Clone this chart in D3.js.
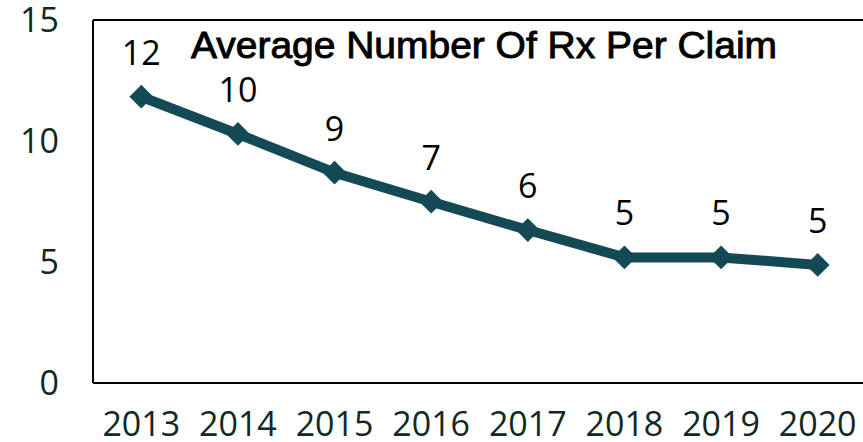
<!DOCTYPE html>
<html>
<head>
<meta charset="utf-8">
<script src="https://cdn.jsdelivr.net/npm/d3@7"></script>
<style>
  body { margin: 0; background: #fff; }
  svg { display: block; }
</style>
</head>
<body>
<svg></svg>
<script>
const years = ['2013', '2014', '2015', '2016', '2017', '2018', '2019', '2020'];
const rxPerClaim = [11.83, 10.29, 8.69, 7.49, 6.32, 5.19, 5.19, 4.88];
const pointLabels = ['12', '10', '9', '7', '6', '5', '5', '5'];
const yTicks = [0, 5, 10, 15];
const chartTitle = 'Average Number Of Rx Per Claim';

const size = {w: 863, h: 442};
const margin = {t: 20, r: -3, b: 59, l: 93};
const svg = d3.select('svg')
    .attr('width', size.w)
    .attr('height', size.h);

const lineColor = '#134a55';
const tickColor = '#0e2a22';
const numFont = '"Open Sans", "DejaVu Sans", sans-serif';
const titleFont = '"Liberation Sans", Arial, sans-serif';

const x = d3.scaleBand()
    .domain(years)
    .range([margin.l, size.w - margin.r]);

const y = d3.scaleLinear()
    .domain([0, 15])
    .range([size.h - margin.b, margin.t]);

// frame: left, top, bottom lines
const frame = svg.append('g').attr('stroke', '#000').attr('stroke-width', 2);
frame.append('line')
    .attr('x1', margin.l).attr('x2', margin.l)
    .attr('y1', y(15)).attr('y2', y(0));
frame.append('line')
    .attr('x1', margin.l).attr('x2', size.w)
    .attr('y1', y(15)).attr('y2', y(15));
frame.append('line')
    .attr('x1', margin.l).attr('x2', size.w)
    .attr('y1', y(0)).attr('y2', y(0));

// y axis labels
svg.append('g')
    .selectAll('text')
    .data(yTicks)
    .join('text')
    .attr('x', 59)
    .attr('y', d => y(d))
    .attr('dy', '0.36em')
    .attr('text-anchor', 'end')
    .attr('fill', tickColor)
    .style('font', `34px ${numFont}`)
    .text(d => d);

// x axis labels
svg.append('g')
    .selectAll('text')
    .data(years)
    .join('text')
    .attr('x', d => x(d) + x.bandwidth() / 2)
    .attr('y', 436)
    .attr('text-anchor', 'middle')
    .attr('fill', tickColor)
    .style('font', `34px ${numFont}`)
    .text(d => d);

// title (medium weight look: regular face with a thin outline)
svg.append('text')
    .attr('x', 484)
    .attr('y', 58)
    .attr('text-anchor', 'middle')
    .attr('fill', '#000')
    .attr('stroke', '#000')
    .attr('stroke-width', 0.9)
    .attr('textLength', 586)
    .attr('lengthAdjust', 'spacingAndGlyphs')
    .style('font', `37px ${titleFont}`)
    .text(chartTitle);

const cx = (d, i) => x(years[i]) + x.bandwidth() / 2;

// line
const line = d3.line()
    .x(cx)
    .y(d => y(d));

svg.append('path')
    .datum(rxPerClaim)
    .attr('d', line)
    .attr('fill', 'none')
    .attr('stroke', lineColor)
    .attr('stroke-width', 10)
    .attr('stroke-linejoin', 'round');

// diamond markers
const diamond = d3.symbol().type(d3.symbolDiamond2).size(360);
svg.append('g')
    .selectAll('path')
    .data(rxPerClaim)
    .join('path')
    .attr('d', diamond)
    .attr('transform', (d, i) => `translate(${cx(d, i)},${y(d)})`)
    .attr('fill', lineColor);

// value labels
svg.append('g')
    .selectAll('text')
    .data(rxPerClaim)
    .join('text')
    .attr('x', cx)
    .attr('y', d => y(d) - 32)
    .attr('text-anchor', 'middle')
    .attr('fill', '#000')
    .style('font', `34px ${numFont}`)
    .text((d, i) => pointLabels[i]);
</script>
</body>
</html>
